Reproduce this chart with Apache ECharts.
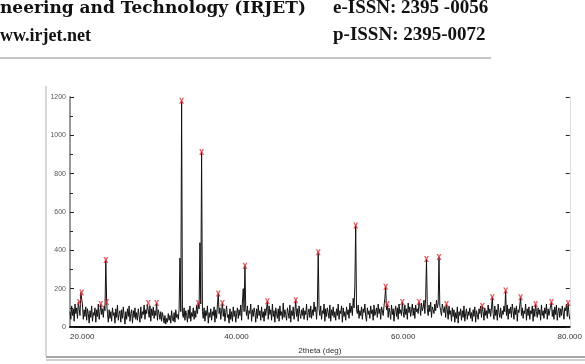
<!DOCTYPE html>
<html>
<head>
<meta charset="utf-8">
<script src="https://cdn.jsdelivr.net/npm/echarts@6/dist/echarts.min.js"></script>
<style>
  html, body { margin: 0; padding: 0; background: #fff; }
  #chart { width: 585px; height: 364px; }
</style>
</head>
<body>
<div id="chart"></div>
<script>
// 2theta grid of the background counts: 20.0 .. 80.0, step 0.1
const startAngle = 20;
const stepAngle = 0.1;
// counts, one row = 1 deg
const background = [
  80, 40, 110, 60, 95, 30, 120, 70, 100, 45,
  130, 85, 60, 180, 70, 115, 40, 90, 55, 105,
  35, 95, 70, 20, 85, 50, 110, 30, 75, 60,
  100, 25, 90, 55, 120, 40, 80, 120, 65, 95,
  50, 110, 85, 350, 130, 70, 25, 90, 45, 80,
  30, 100, 60, 75, 20, 95, 50, 115, 35, 70,
  85, 25, 90, 45, 105, 60, 15, 80, 40, 95,
  55, 110, 30, 70, 90, 20, 85, 50, 100, 40,
  75, 35, 95, 60, 25, 105, 45, 80, 65, 115,
  40, 90, 70, 120, 125, 50, 110, 30, 95, 60,
  105, 45, 85, 60, 125, 35, 90, 70, 40, 80,
  30, 75, 50, 20, 60, 15, 45, 25, 70, 35,
  60, 20, 85, 45, 30, 75, 25, 90, 50, 65,
  40, 95, 360, 80, 1180, 70, 50, 100, 35, 85,
  60, 25, 90, 45, 110, 30, 75, 55, 100, 40,
  85, 50, 115, 70, 125, 95, 440, 120, 913, 80,
  45, 100, 30, 85, 60, 110, 20, 75, 50, 95,
  35, 80, 60, 105, 25, 90, 45, 115, 175, 70,
  100, 40, 85, 125, 55, 95, 30, 75, 110, 50,
  65, 20, 95, 40, 80, 30, 105, 55, 85, 25,
  70, 100, 45, 90, 60, 115, 35, 130, 200, 80,
  320, 95, 60, 110, 40, 85, 70, 120, 30, 90,
  55, 100, 75, 25, 95, 45, 115, 60, 85, 35,
  105, 50, 80, 30, 95, 60, 70, 135, 40, 110,
  65, 90, 35, 120, 55, 85, 25, 100, 70, 45,
  95, 30, 110, 60, 80, 40, 125, 50, 90, 65,
  35, 100, 75, 45, 115, 25, 85, 60, 105, 40,
  80, 140, 55, 95, 30, 110, 70, 45, 90, 60,
  100, 40, 85, 65, 120, 35, 75, 95, 50, 110,
  45, 90, 60, 130, 80, 105, 40, 115, 390, 95,
  60, 110, 40, 85, 70, 120, 30, 95, 55, 100,
  75, 45, 115, 30, 90, 60, 105, 50, 80, 35,
  95, 60, 120, 40, 85, 70, 110, 25, 100, 55,
  80, 35, 105, 65, 90, 45, 125, 75, 110, 60,
  150, 100, 220, 530, 90, 70, 115, 45, 85, 60,
  105, 40, 95, 75, 120, 55, 30, 100, 65, 85,
  45, 110, 70, 90, 35, 115, 60, 80, 100, 50,
  120, 70, 95, 40, 105, 85, 60, 110, 150, 210,
  90, 120, 50, 100, 75, 40, 115, 65, 95, 30,
  85, 110, 55, 100, 40, 120, 70, 90, 60, 130,
  80, 50, 115, 65, 95, 40, 125, 75, 105, 55,
  90, 120, 60, 100, 45, 115, 80, 95, 70, 130,
  110, 60, 125, 85, 100, 140, 70, 150, 355, 95,
  60, 115, 80, 130, 50, 105, 90, 70, 120, 85,
  140, 100, 120, 365, 110, 85, 60, 120, 95, 75,
  105, 50, 120, 90, 40, 110, 65, 85, 30, 100,
  55, 90, 25, 75, 45, 105, 20, 80, 60, 95,
  35, 85, 50, 110, 30, 70, 95, 40, 80, 60,
  100, 45, 75, 30, 90, 55, 105, 25, 85, 65,
  40, 95, 70, 110, 50, 110, 80, 35, 100, 60,
  85, 45, 115, 70, 95, 55, 100, 155, 70, 40,
  110, 60, 90, 35, 120, 75, 50, 100, 45, 85,
  65, 110, 80, 190, 60, 115, 40, 95, 70, 105,
  50, 120, 85, 40, 100, 65, 110, 30, 90, 75,
  115, 155, 60, 100, 45, 85, 70, 120, 35, 95,
  60, 105, 40, 85, 70, 110, 30, 95, 55, 120,
  80, 50, 100, 65, 90, 35, 115, 60, 85, 45,
  100, 70, 120, 40, 95, 60, 85, 110, 130, 55,
  90, 40, 105, 65, 115, 35, 80, 100, 50, 95,
  60, 110, 75, 40, 100, 85, 120, 55, 125, 70,
  40
];
// identified peaks (red x markers)
const peakAngles = [21.1, 21.4, 23.7, 24.3, 24.4, 29.4, 30.4, 33.4, 35.4, 35.8,
  37.8, 38.3, 41.0, 43.7, 47.1, 49.8, 54.3, 57.9, 58.1, 59.9,
  61.9, 62.8, 64.3, 65.2, 69.5, 70.7, 72.3, 74.1, 75.9, 77.8, 79.8];
const peakCounts = [130, 180, 120, 350, 130, 125, 125, 1180, 125, 913,
  175, 125, 320, 135, 140, 390, 530, 210, 120, 130,
  130, 355, 365, 120, 110, 155, 190, 155, 120, 130, 125];
const xTicks = [20, 40, 60, 80];

function buildPattern() {
  const pts = {};
  background.forEach((v, i) => {
    pts[(startAngle + i * stepAngle).toFixed(1)] = v;
  });
  peakAngles.forEach((a, i) => { pts[a.toFixed(1)] = peakCounts[i]; });
  return Object.keys(pts)
    .map((k) => [parseFloat(k), pts[k]])
    .sort((a, b) => a[0] - b[0]);
}

const chart = echarts.init(document.getElementById('chart'));
const smallFont = 'Liberation Sans Narrow, Liberation Sans, sans-serif';
const wideHead = 'bold 17px "DejaVu Serif", serif';
const issnHead = 'bold 19px "Liberation Serif", serif';
const siteHead = 'bold 18px "Liberation Serif", serif';

const option = {
  animation: false,
  backgroundColor: '#fff',
  grid: { left: 70, right: 12, top: 97, bottom: 37 },
  graphic: [
    { type: 'text', x: 0, y: 0, style: { text: 'neering and Technology (IRJET)', font: wideHead, fill: '#111', verticalAlign: 'top' } },
    { type: 'text', x: 333, y: -1, style: { text: 'e-ISSN: 2395 -0056', font: issnHead, fill: '#111', verticalAlign: 'top' } },
    { type: 'text', x: 0, y: 27, style: { text: 'ww.irjet.net', font: siteHead, fill: '#111', verticalAlign: 'top' } },
    { type: 'text', x: 333, y: 26, style: { text: 'p-ISSN: 2395-0072', font: issnHead, fill: '#111', verticalAlign: 'top' } },
    { type: 'line', shape: { x1: 0, y1: 58, x2: 491, y2: 58 }, style: { stroke: '#8a8a8a', lineWidth: 1 } },
    // window frame round the plot
    { type: 'line', shape: { x1: 46, y1: 86, x2: 46, y2: 356 }, style: { stroke: '#d8d8d8', lineWidth: 2 } },
    { type: 'line', shape: { x1: 46, y1: 357, x2: 585, y2: 357 }, style: { stroke: '#a8a8a8', lineWidth: 2 } },
    { type: 'line', shape: { x1: 46, y1: 360, x2: 585, y2: 360 }, style: { stroke: '#d0d0d0', lineWidth: 2 } }
  ],
  xAxis: [
    {
      type: 'value', min: 20, max: 80, interval: 20,
      name: '2theta (deg)', nameLocation: 'middle', nameGap: 20,
      nameTextStyle: { fontSize: 8, color: '#333', fontFamily: smallFont },
      axisLine: { lineStyle: { color: '#000', width: 1.5 } },
      axisTick: { show: false },
      splitLine: { show: false },
      axisLabel: {
        fontSize: 8, color: '#333', fontFamily: smallFont, margin: 6,
        customValues: xTicks, alignMinLabel: 'left',
        formatter: (v) => v.toFixed(3)
      }
    },
    {
      type: 'value', position: 'top', min: 20, max: 80,
      axisLine: { lineStyle: { color: '#000', width: 1.5 } },
      axisTick: { show: false }, axisLabel: { show: false }, splitLine: { show: false }
    }
  ],
  yAxis: [
    {
      type: 'value', min: 0, max: 1200, interval: 200,
      axisLine: { show: true, lineStyle: { color: '#999', width: 2 } },
      axisTick: { show: true, inside: true, length: 4, lineStyle: { color: '#222' } },
      minorTick: { show: true, splitNumber: 2, length: 3, lineStyle: { color: '#222' } },
      splitLine: { show: false },
      axisLabel: { fontSize: 7, color: '#555', fontFamily: smallFont, margin: 4, formatter: (v) => String(v) }
    },
    {
      type: 'value', position: 'right', min: 0, max: 1200, interval: 200,
      axisLine: { show: true, lineStyle: { color: '#ddd', width: 1 } },
      axisTick: { show: true, inside: true, length: 4, lineStyle: { color: '#222' } },
      minorTick: { show: false },
      axisLabel: { show: false }, splitLine: { show: false }
    }
  ],
  series: [
    {
      name: 'pattern',
      type: 'line',
      data: buildPattern(),
      showSymbol: false,
      lineStyle: { color: '#111', width: 1 },
      z: 2
    },
    {
      name: 'peaks',
      type: 'scatter',
      data: peakAngles.map((a, i) => [a, peakCounts[i]]),
      symbol: 'path://M0,0L3,0L5,3.6L7,0L10,0L6.5,6L10,12L7,12L5,8.4L3,12L0,12L3.5,6Z',
      symbolSize: [5, 6],
      itemStyle: { color: '#e0303a' },
      z: 3
    }
  ]
};

chart.setOption(option);
</script>
</body>
</html>
